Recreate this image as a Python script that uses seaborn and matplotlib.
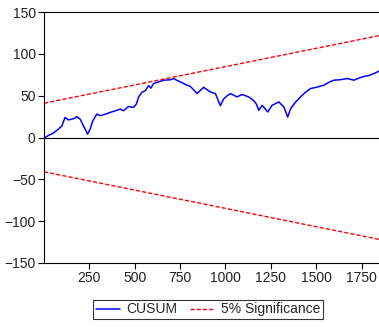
import matplotlib
matplotlib.use("Agg")
import matplotlib.pyplot as plt
import seaborn as sns
import pandas as pd

# CUSUM path
obs = [7, 30, 51, 80, 100, 117, 135, 155, 170, 182, 200, 218, 230, 241, 255, 270, 292, 311, 340, 366,
       395, 421, 439, 466, 494, 510, 521, 540, 559, 577, 590, 604, 632, 660, 697, 715, 735, 752, 779,
       807, 825, 844, 880, 900, 917, 945, 972, 990, 1010, 1028, 1064, 1092, 1128, 1156, 1170, 1184,
       1202, 1220, 1233, 1257, 1294, 1322, 1343, 1359, 1385, 1414, 1440, 1469, 1500, 1542, 1570, 1597,
       1630, 1671, 1708, 1735, 1763, 1790, 1818, 1850]
cusum = [0, 3, 5, 10, 14, 24, 21, 22, 23, 25, 22, 14, 9, 4, 10, 20, 28, 26, 28, 30,
         32, 34, 32, 37, 36, 40, 48, 54, 56, 62, 59, 64.5, 66.5, 68.5, 69, 70.5, 68, 66.5, 63.5,
         61, 57, 52.5, 60, 57, 54.5, 52.5, 38, 46, 50, 52.5, 48.5, 51.5, 48.5, 44, 40, 32.5,
         38.5, 34, 30.5, 38.5, 42.5, 36.5, 24.4, 34.5, 42, 48.5, 54, 58.5, 60, 62.5, 66, 68.5,
         69, 70.5, 68.5, 71, 73, 74, 76.5, 79.7]

# 5% significance bounds (endpoints)
bound_obs = [1, 1852]
upper = [41, 122]
lower = [-41, -122]

df_c = pd.DataFrame({"obs": obs, "value": cusum})
df_u = pd.DataFrame({"obs": bound_obs, "value": upper})
df_l = pd.DataFrame({"obs": bound_obs, "value": lower})

sns.set_theme(style="white")
plt.rcParams["font.family"] = ["Liberation Sans", "DejaVu Sans"]

fig = plt.figure(figsize=(3.79, 3.27), dpi=100)
ax = fig.add_axes([44/379, 1 - 263/327, 1 - 44/379 + 0.003, (263 - 12)/327])

sns.lineplot(data=df_c, x="obs", y="value", ax=ax, color="#0000ff", lw=1.1, label="CUSUM")
sns.lineplot(data=df_u, x="obs", y="value", ax=ax, color="#ff0000", lw=1.0,
             linestyle=(0, (3, 1.5)), label="5% Significance")
sns.lineplot(data=df_l, x="obs", y="value", ax=ax, color="#ff0000", lw=1.0,
             linestyle=(0, (3, 1.5)), label="_nolegend_")

ax.axhline(0, color="black", lw=0.8, zorder=0)
ax.set_xlim(1, 1852)
ax.set_ylim(-150, 150)
ax.set_xticks([250, 500, 750, 1000, 1250, 1500, 1750])
ax.set_yticks([-150, -100, -50, 0, 50, 100, 150])
ax.set_xlabel("")
ax.set_ylabel("")
for s in ["left", "bottom", "top"]:
    ax.spines[s].set_color("black")
    ax.spines[s].set_linewidth(0.8)
ax.spines["right"].set_visible(False)
ax.tick_params(axis="both", which="both", direction="out", length=4, width=0.8,
               color="black", labelsize=10, labelcolor="#222222", pad=2)
ax.tick_params(axis="x", bottom=True)
ax.tick_params(axis="y", left=True)

leg = ax.legend(loc="upper center", bbox_to_anchor=(0.5 - 0.012, -0.146), ncol=2, frameon=True,
                fancybox=False, edgecolor="black", fontsize=10, handlelength=1.7,
                handletextpad=0.5, columnspacing=0.9, borderpad=0.2, borderaxespad=0)
leg.get_frame().set_linewidth(0.8)

fig.savefig("out.png", dpi=100)
